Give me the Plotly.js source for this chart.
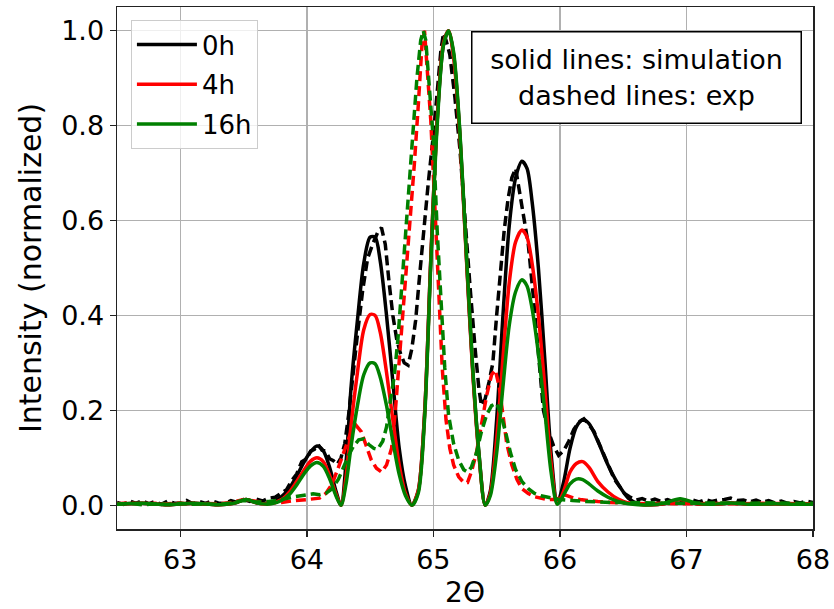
<!DOCTYPE html>
<html>
<head>
<meta charset="utf-8">
<script src="https://cdn.plot.ly/plotly-3.0.1.min.js"></script>
<style>html,body{margin:0;padding:0;background:#fff;}#chart{width:834px;height:609px;}</style>
</head>
<body>
<div id="chart"></div>
<script>
// ---- data ----
const seriesNames = ["0h", "4h", "16h"];

// simulation (solid lines), shared 2-theta grid
const simX = [62.5, 62.7, 62.9, 63.1, 63.3, 63.42, 63.52, 63.62, 63.72, 63.8, 63.86, 63.92, 63.98, 64.03, 64.08, 64.13, 64.18, 64.23, 64.27, 64.31, 64.35, 64.4, 64.45, 64.5, 64.54, 64.58, 64.63, 64.68, 64.73, 64.78, 64.83, 64.88, 64.93, 64.98, 65.03, 65.08, 65.12, 65.16, 65.21, 65.26, 65.31, 65.36, 65.41, 65.45, 65.5, 65.55, 65.6, 65.65, 65.7, 65.74, 65.78, 65.83, 65.88, 65.93, 65.98, 66.03, 66.08, 66.13, 66.18, 66.23, 66.3, 66.38, 66.46, 66.54, 66.62, 66.72, 66.82, 66.95, 67.08, 67.2, 67.35, 67.5, 67.7, 67.85, 68.0];
const sim0h = [0.002, 0.004, 0.001, 0.004, 0.001, 0.004, 0.012, 0.004, 0.006, 0.018, 0.035, 0.062, 0.092, 0.113, 0.125, 0.115, 0.08, 0.03, 0.0, 0.09, 0.25, 0.39, 0.51, 0.565, 0.565, 0.515, 0.40, 0.26, 0.12, 0.04, 0.0, 0.03, 0.19, 0.52, 0.81, 0.97, 1.0, 0.95, 0.78, 0.53, 0.29, 0.11, 0.0, 0.03, 0.18, 0.40, 0.59, 0.69, 0.725, 0.71, 0.64, 0.50, 0.31, 0.11, 0.005, 0.05, 0.12, 0.165, 0.18, 0.172, 0.135, 0.085, 0.045, 0.015, 0.003, 0.001, 0.003, 0.012, 0.003, 0.002, 0.005, 0.002, 0.003, 0.002, 0.002];
const sim4h = [0.002, 0.004, 0.001, 0.004, 0.001, 0.004, 0.012, 0.004, 0.004, 0.012, 0.027, 0.05, 0.075, 0.093, 0.10, 0.092, 0.063, 0.024, 0.0, 0.06, 0.17, 0.28, 0.37, 0.402, 0.40, 0.365, 0.28, 0.18, 0.085, 0.025, 0.0, 0.03, 0.19, 0.52, 0.81, 0.975, 1.0, 0.945, 0.775, 0.525, 0.285, 0.105, 0.0, 0.025, 0.14, 0.31, 0.47, 0.555, 0.58, 0.565, 0.51, 0.40, 0.25, 0.09, 0.003, 0.03, 0.07, 0.088, 0.092, 0.08, 0.05, 0.028, 0.013, 0.005, 0.002, 0.001, 0.003, 0.012, 0.003, 0.002, 0.005, 0.002, 0.003, 0.002, 0.002];
const sim16h = [0.002, 0.004, 0.001, 0.004, 0.001, 0.004, 0.012, 0.004, 0.003, 0.01, 0.022, 0.043, 0.067, 0.083, 0.09, 0.082, 0.056, 0.02, 0.0, 0.045, 0.125, 0.21, 0.275, 0.30, 0.298, 0.27, 0.21, 0.135, 0.065, 0.02, 0.0, 0.025, 0.18, 0.51, 0.80, 0.97, 1.0, 0.955, 0.785, 0.535, 0.295, 0.11, 0.0, 0.02, 0.11, 0.25, 0.38, 0.45, 0.475, 0.462, 0.415, 0.32, 0.20, 0.07, 0.002, 0.022, 0.045, 0.055, 0.054, 0.045, 0.03, 0.017, 0.008, 0.003, 0.001, 0.001, 0.004, 0.014, 0.004, 0.002, 0.005, 0.002, 0.003, 0.002, 0.002];

// experiment (dashed lines)
const exp0hX = [62.5, 62.55, 62.6, 62.65, 62.7, 62.75, 62.8, 62.85, 62.9, 62.95, 63.0, 63.05, 63.1, 63.15, 63.2, 63.25, 63.3, 63.35, 63.4, 63.45, 63.5, 63.55, 63.6, 63.65, 63.7, 63.75, 63.8, 63.84, 63.88, 63.92, 63.96, 64.0, 64.03, 64.06, 64.09, 64.12, 64.15, 64.18, 64.21, 64.24, 64.27, 64.3, 64.33, 64.36, 64.4, 64.44, 64.48, 64.52, 64.56, 64.59, 64.62, 64.65, 64.68, 64.71, 64.74, 64.77, 64.8, 64.83, 64.86, 64.89, 64.92, 64.96, 65.0, 65.03, 65.06, 65.08, 65.1, 65.13, 65.17, 65.21, 65.25, 65.29, 65.33, 65.36, 65.38, 65.41, 65.44, 65.47, 65.5, 65.53, 65.56, 65.59, 65.62, 65.65, 65.68, 65.71, 65.75, 65.79, 65.83, 65.87, 65.91, 65.95, 65.99, 66.03, 66.07, 66.11, 66.15, 66.19, 66.23, 66.27, 66.31, 66.35, 66.39, 66.43, 66.47, 66.51, 66.55, 66.6, 66.65, 66.7, 66.75, 66.8, 66.85, 66.9, 66.95, 67.0, 67.05, 67.1, 67.15, 67.2, 67.25, 67.3, 67.35, 67.4, 67.45, 67.5, 67.55, 67.6, 67.65, 67.7, 67.75, 67.8, 67.85, 67.9, 67.95, 68.0];
const exp0h = [0.006, 0.002, 0.009, 0.004, 0.010, 0.003, 0.008, 0.002, 0.009, 0.005, 0.004, 0.010, 0.003, 0.008, 0.004, 0.009, 0.005, 0.003, 0.010, 0.006, 0.012, 0.008, 0.013, 0.009, 0.015, 0.017, 0.026, 0.033, 0.052, 0.066, 0.092, 0.098, 0.114, 0.118, 0.128, 0.116, 0.114, 0.098, 0.094, 0.086, 0.1, 0.13, 0.19, 0.27, 0.36, 0.45, 0.52, 0.55, 0.575, 0.585, 0.55, 0.47, 0.40, 0.35, 0.32, 0.30, 0.295, 0.33, 0.39, 0.48, 0.575, 0.68, 0.78, 0.87, 0.96, 0.995, 0.98, 0.95, 0.86, 0.75, 0.60, 0.46, 0.33, 0.245, 0.21, 0.225, 0.26, 0.30, 0.40, 0.50, 0.58, 0.645, 0.69, 0.71, 0.66, 0.62, 0.55, 0.44, 0.31, 0.2, 0.155, 0.125, 0.105, 0.115, 0.135, 0.16, 0.175, 0.182, 0.17, 0.155, 0.13, 0.105, 0.08, 0.055, 0.04, 0.025, 0.018, 0.011, 0.014, 0.009, 0.013, 0.008, 0.012, 0.007, 0.011, 0.006, 0.011, 0.007, 0.012, 0.008, 0.011, 0.012, 0.015, 0.010, 0.011, 0.007, 0.011, 0.006, 0.010, 0.005, 0.009, 0.004, 0.008, 0.005, 0.009, 0.006];

const exp4hX = [62.5, 62.6, 62.7, 62.8, 62.9, 63.0, 63.1, 63.2, 63.3, 63.4, 63.5, 63.6, 63.7, 63.8, 63.9, 64.0, 64.05, 64.1, 64.15, 64.2, 64.25, 64.3, 64.35, 64.39, 64.43, 64.47, 64.51, 64.55, 64.59, 64.63, 64.67, 64.7, 64.73, 64.76, 64.79, 64.82, 64.85, 64.88, 64.91, 64.93, 64.95, 64.98, 65.01, 65.04, 65.07, 65.1, 65.13, 65.16, 65.2, 65.24, 65.27, 65.3, 65.34, 65.38, 65.42, 65.46, 65.49, 65.52, 65.55, 65.58, 65.62, 65.66, 65.7, 65.75, 65.8, 65.85, 65.9, 65.95, 66.0, 66.04, 66.08, 66.12, 66.16, 66.22, 66.3, 66.4, 66.5, 66.6, 66.7, 66.8, 67.0, 67.2, 67.4, 67.6, 67.8, 68.0];
const exp4h = [0.003, 0.005, 0.002, 0.004, 0.003, 0.005, 0.002, 0.004, 0.003, 0.006, 0.012, 0.008, 0.005, 0.006, 0.01, 0.012, 0.013, 0.015, 0.025, 0.045, 0.08, 0.12, 0.155, 0.168, 0.155, 0.125, 0.095, 0.078, 0.07, 0.085, 0.12, 0.2, 0.3, 0.4, 0.5, 0.6, 0.72, 0.84, 0.97, 1.0, 0.93, 0.81, 0.64, 0.45, 0.29, 0.18, 0.12, 0.085, 0.06, 0.048, 0.048, 0.07, 0.11, 0.17, 0.23, 0.275, 0.285, 0.25, 0.19, 0.13, 0.085, 0.055, 0.035, 0.025, 0.018, 0.015, 0.012, 0.012, 0.015, 0.022, 0.018, 0.014, 0.012, 0.01, 0.008, 0.006, 0.005, 0.004, 0.003, 0.004, 0.003, 0.004, 0.003, 0.004, 0.003, 0.003];

const exp16hX = [62.5, 62.6, 62.7, 62.8, 62.9, 63.0, 63.1, 63.2, 63.3, 63.4, 63.5, 63.6, 63.7, 63.8, 63.9, 64.0, 64.05, 64.1, 64.15, 64.2, 64.25, 64.29, 64.33, 64.37, 64.41, 64.45, 64.49, 64.53, 64.56, 64.6, 64.63, 64.66, 64.69, 64.72, 64.75, 64.78, 64.81, 64.84, 64.87, 64.9, 64.92, 64.94, 64.97, 65.0, 65.03, 65.06, 65.09, 65.12, 65.16, 65.2, 65.24, 65.27, 65.3, 65.34, 65.38, 65.42, 65.46, 65.5, 65.53, 65.57, 65.61, 65.65, 65.7, 65.75, 65.8, 65.85, 65.9, 65.95, 66.0, 66.1, 66.2, 66.4, 66.6, 66.8, 67.0, 67.2, 67.4, 67.6, 67.8, 68.0];
const exp16h = [0.002, 0.004, 0.001, 0.003, 0.002, 0.004, 0.002, 0.003, 0.002, 0.005, 0.01, 0.007, 0.008, 0.012, 0.018, 0.022, 0.024, 0.022, 0.025, 0.035, 0.055, 0.08, 0.105, 0.125, 0.138, 0.14, 0.128, 0.12, 0.118, 0.135, 0.165, 0.22, 0.27, 0.35, 0.45, 0.57, 0.68, 0.8, 0.9, 0.98, 1.0, 0.98, 0.88, 0.77, 0.58, 0.42, 0.29, 0.19, 0.13, 0.095, 0.075, 0.07, 0.08, 0.11, 0.155, 0.19, 0.21, 0.215, 0.195, 0.155, 0.11, 0.075, 0.05, 0.035, 0.025, 0.02, 0.017, 0.015, 0.012, 0.01, 0.008, 0.006, 0.005, 0.005, 0.004, 0.005, 0.004, 0.005, 0.004, 0.004];

const colors = ["#000000", "#ff0000", "#008000"];
const simY = [sim0h, sim4h, sim16h];
const expXs = [exp0hX, exp4hX, exp16hX];
const expY = [exp0h, exp4h, exp16h];

const FONT = "DejaVu Sans, Verdana, sans-serif";
const traces = [];
for (let i = 0; i < 3; i++) {
  traces.push({
    x: simX, y: simY[i], type: "scatter", mode: "lines",
    name: seriesNames[i], legendgroup: "g" + i, showlegend: true,
    line: {color: colors[i], width: 3.5, shape: "spline", smoothing: 0.8}
  });
  traces.push({
    x: expXs[i], y: expY[i], type: "scatter", mode: "lines",
    name: seriesNames[i] + " exp", legendgroup: "g" + i, showlegend: false,
    line: {color: colors[i], width: 3.5, dash: "10px,5px"}
  });
}

const layout = {
  width: 834, height: 609,
  margin: {l: 117, r: 21, t: 7, b: 80},
  paper_bgcolor: "#ffffff", plot_bgcolor: "#ffffff",
  font: {family: FONT, color: "#000000", size: 26},
  showlegend: true,
  legend: {
    x: 0.02, y: 0.975, xanchor: "left", yanchor: "top",
    bgcolor: "rgba(255,255,255,0.8)", bordercolor: "#cccccc", borderwidth: 1,
    font: {family: FONT, size: 26, color: "#000000"},
    traceorder: "grouped", tracegroupgap: 3, itemwidth: 60
  },
  xaxis: {
    range: [62.5, 68], tick0: 63, dtick: 1,
    showgrid: true, gridcolor: "#b0b0b0", gridwidth: 1.5,
    zeroline: false, showline: true, linecolor: "#222222", linewidth: 1.5, mirror: true,
    ticks: "outside", ticklen: 6, tickwidth: 1.5, tickcolor: "#222222",
    tickfont: {family: FONT, size: 27, color: "#000000"},
    title: {text: "2Θ", font: {family: FONT, size: 28, color: "#000000"}, standoff: 8}
  },
  yaxis: {
    range: [-0.05, 1.05], tick0: 0, dtick: 0.2, tickformat: ".1f",
    showgrid: true, gridcolor: "#b0b0b0", gridwidth: 1.5,
    zeroline: false, showline: true, linecolor: "#222222", linewidth: 1.5, mirror: true,
    ticks: "outside", ticklen: 6, tickwidth: 1.5, tickcolor: "#222222",
    tickfont: {family: FONT, size: 27, color: "#000000"},
    title: {text: "Intensity (normalized)", font: {family: FONT, size: 30, color: "#000000"}, standoff: 10}
  },
  annotations: [{
    xref: "paper", yref: "paper", x: 0.7457, y: 0.954, xanchor: "center", yanchor: "top",
    text: "solid lines: simulation<br>dashed lines: exp", showarrow: false,
    font: {family: FONT, size: 27, color: "#000000"}, align: "center",
    bgcolor: "#ffffff", bordercolor: "#000000", borderwidth: 1.5, borderpad: 12,
    width: 304, height: 66
  }]
};

Plotly.newPlot("chart", traces, layout, {displayModeBar: false, staticPlot: true});
</script>
</body>
</html>
